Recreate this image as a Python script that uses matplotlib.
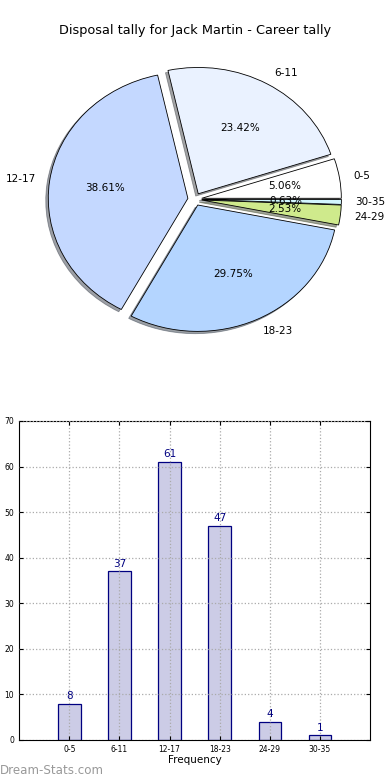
import matplotlib
matplotlib.use("Agg")
import matplotlib.pyplot as plt
import numpy as np

# tally data
bins = ['0-5', '6-11', '12-17', '18-23', '24-29', '30-35']
counts = [8, 37, 61, 47, 4, 1]
pie_order = ['0-5', '6-11', '12-17', '18-23', '24-29', '30-35']
slice_colors = ['#ffffff', '#eaf2ff', '#c4d8ff', '#b4d5ff', '#cfea8c', '#d2f6ff']

title = 'Disposal tally for Jack Martin - Career tally'

fig = plt.figure(figsize=(3.9, 7.8), dpi=100)

# pie chart (elliptical, like old matplotlib without axis equal)
ax1 = fig.add_axes([0.052, 0.542, 0.895, 0.405])
pie_vals = [counts[bins.index(b)] for b in pie_order]
wedges, texts, autotexts = ax1.pie(
    pie_vals, labels=pie_order, colors=slice_colors, explode=[0.05] * len(pie_vals),
    autopct='%1.2f%%', shadow={'ox': -0.013, 'oy': -0.013, 'shade': 0.7},
    startangle=0,
    wedgeprops={'edgecolor': 'black', 'linewidth': 0.6},
    textprops={'fontsize': 7.5})
ax1.set_aspect('auto')
ax1.set_xlim(-1.25, 1.25)
ax1.set_ylim(-1.25, 1.25)
fig.text(0.5, 0.961, title, ha='center', va='center', fontsize=9.3)

# bar chart
ax2 = fig.add_axes([0.049, 0.0513, 0.9, 0.409])
x = np.arange(len(bins))
bars = ax2.bar(x, counts, width=0.45, color='#ccccE6', edgecolor='#000080',
               linewidth=0.9, zorder=1)
for xi, c in zip(x, counts):
    ax2.text(xi, c + 0.6, str(c), ha='center', va='bottom', color='#000080',
             fontsize=7.5)
ax2.set_xlim(-1, 6)
ax2.set_ylim(0, 70)
ax2.set_xticks(x)
ax2.set_xticklabels(bins)
ax2.set_yticks(range(0, 71, 10))
ax2.tick_params(direction='in', top=True, right=True, labelsize=5.5, length=3)
ax2.grid(True, linestyle=':', color='#aaaaaa', linewidth=0.9, zorder=3)
ax2.set_axisbelow(False)
ax2.set_xlabel('Frequency', fontsize=7.5, labelpad=1)

fig.text(0.0, 0.004, 'Dream-Stats.com', color='#999999', fontsize=8.6,
         ha='left', va='bottom')

fig.savefig('out.png', dpi=100)
